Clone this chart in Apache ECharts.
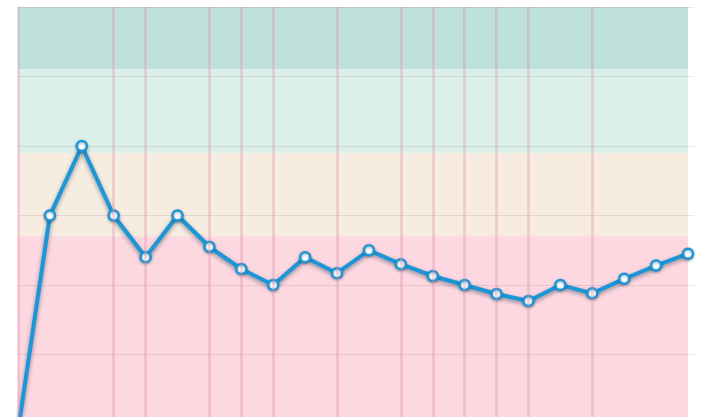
<!DOCTYPE html>
<html>
<head>
<meta charset="utf-8">
<script src="https://cdn.jsdelivr.net/npm/echarts@6/dist/echarts.min.js"></script>
<style>
    html, body { margin: 0; padding: 0; background: #fff; }
    #chart { width: 701px; height: 417px; }
</style>
</head>
<body>
<div id="chart"></div>
<script>
// x positions of the points (one per step)
const steps = [0, 1, 2, 3, 4, 5, 6, 7, 8, 9, 10, 11, 12, 13, 14, 15, 16, 17, 18, 19, 20, 21];
// values
const values = [-1, 30, 40, 30, 24, 30, 25.5, 22.3, 20, 24, 21.7, 25, 23, 21.3, 20, 18.7, 17.7, 20, 18.8, 20.9, 22.8, 24.5];
// steps that carry a vertical line
const markedSteps = [0, 3, 4, 6, 7, 8, 10, 12, 13, 14, 15, 16, 18];
// band limits (low, high) and colours
const bandLimits = [[51, 60], [39, 51], [27, 39], [-10, 27]];
const bandColors = ['#bfe1db', '#daf0e9', '#f7ece0', '#fdd8e1'];

let chart = echarts.init(document.getElementById('chart'));

let areas = bandLimits.map((b, i) => [
    {xAxis: steps[0], yAxis: b[1], itemStyle: {color: bandColors[i], opacity: 1}},
    {xAxis: steps[steps.length - 1], yAxis: b[0]}
]);

chart.setOption({
    animation: false,
    grid: {left: 18, top: 7, width: 676.4, height: 486.5, outerBoundsMode: 'none', containLabel: false},
    xAxis: {
        type: 'value', min: 0, max: 21.2,
        axisLine: {show: false}, axisTick: {show: false}, axisLabel: {show: false},
        splitLine: {show: false}
    },
    yAxis: {
        type: 'value', min: -10, max: 60, interval: 10, z: 3,
        axisLine: {show: false}, axisTick: {show: false}, axisLabel: {show: false},
        splitLine: {lineStyle: {color: 'rgba(170,130,140,0.22)', width: 1}}
    },
    series: [
        {
            type: 'line', z: 1, data: [], silent: true,
            markArea: {silent: true, data: areas},
            markLine: {
                silent: true, symbol: 'none', label: {show: false},
                lineStyle: {color: 'rgba(220,140,175,0.32)', width: 3, type: 'solid'},
                data: markedSteps.map(s => ({xAxis: s}))
            }
        },
        {
            type: 'line', z: 4,
            data: steps.map((s, i) => [s, values[i]]),
            symbol: 'circle', symbolSize: 10,
            lineStyle: {
                color: '#1c96d6', width: 4,
                shadowColor: 'rgba(0,40,60,0.45)', shadowBlur: 4, shadowOffsetY: 2
            },
            itemStyle: {
                color: '#ffffff', borderColor: '#1c96d6', borderWidth: 2.5,
                shadowColor: 'rgba(0,40,60,0.35)', shadowBlur: 3, shadowOffsetY: 1
            }
        }
    ]
});
</script>
</body>
</html>
